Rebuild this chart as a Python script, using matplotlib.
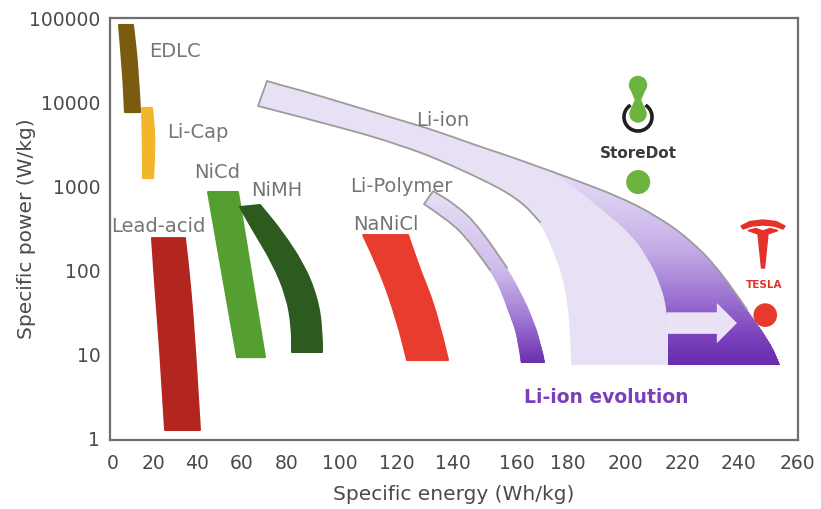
import numpy as np
import matplotlib
matplotlib.use("Agg")
import matplotlib.pyplot as plt
import matplotlib.ticker as mticker
from matplotlib.patches import Polygon, Circle, Arc, PathPatch
from matplotlib.path import Path
from matplotlib.colors import LinearSegmentedColormap

# ---------------------------------------------------------------------------
# Data: each technology is a band bounded by two edges, listed top -> bottom
# as (specific energy [Wh/kg], specific power [W/kg]).
# ---------------------------------------------------------------------------
edlc_left = [(3.0, 82600), (5.0, 24000), (6.0, 7600)]
edlc_right = [(10.0, 82600), (12.5, 24000), (13.5, 7600)]

licap_left = [(14.5, 8490), (15.0, 3250), (15.0, 1245)]
licap_right = [(19.5, 8490), (21.0, 3250), (20.0, 1245)]

lead_left = [(19.5, 240), (20.9, 70), (23.2, 12), (25.5, 1.25)]
lead_right = [(34.5, 240), (36.8, 70), (39.1, 12), (41.3, 1.25)]

nicd_left = [(44.9, 849), (51.6, 80), (57.8, 9.2)]
nicd_right = [(58.2, 849), (64.4, 80), (70.2, 9.2)]

nimh_inner = [(59.1, 562), (64.9, 299), (73.8, 121), (80.0, 47.7),
              (81.9, 21), (81.9, 10.6)]
nimh_outer = [(68.0, 594), (78.2, 276), (86.0, 121), (91.3, 47.7),
              (93.2, 19.3), (93.2, 10.6)]

nanicl_left = [(108.1, 261), (114.0, 100), (120.0, 25.4), (123.6, 8.5)]
nanicl_right = [(123.9, 261), (128.2, 100), (134.3, 30.8), (138.2, 8.5)]

lipoly_inner = [(129.6, 611), (137.1, 416), (143.1, 276), (151.6, 100),
                (155.6, 50), (158.4, 25.4), (160.4, 14.7), (161.6, 7.8)]
lipoly_outer = [(132.9, 872), (140.6, 611), (148.4, 325), (156.9, 106),
                (162.0, 50), (166.3, 25.4), (169.0, 13.9), (171.0, 7.8)]

liion_inner = [(67.1, 8960), (100, 5040), (121.1, 3080), (135.4, 2040),
               (148.4, 1245), (161.2, 681), (169.0, 373), (174.1, 173),
               (177.6, 87), (179.6, 44), (180.7, 19.3), (181.1, 7.4)]
liion_outer = [(71.1, 17800), (84.9, 13900), (100, 10000), (117.5, 6630),
               (135.4, 4390), (151.6, 2680), (161.2, 2040), (180.7, 1245),
               (198.2, 740), (210.5, 452), (221.8, 247), (233.6, 100),
               (243.1, 33.4), (249.8, 15.9), (254.2, 7.4)]

# boundary between today's Li-ion and the "evolution" zone
evolution_edge = [(174.9, 1390), (182.5, 946), (192.3, 518), (201.8, 276),
                  (207.7, 143), (212.3, 70), (214.7, 33.4), (215.1, 15.9),
                  (215.1, 7.4)]
evolution_arrow = [(214.7, 23.4), (239.6, 23.4)]

storedot_point = (204.6, 1116)
tesla_point = (249.2, 29.1)

labels = [
    ("EDLC", 30.0, 39400),
    ("Li-Cap", 40.2, 4390),
    ("NiCd", 48.9, 1430),
    ("NiMH", 75.6, 896),
    ("Lead-acid", 22.3, 334),
    ("Li-ion", 136.4, 6110),
    ("Li-Polymer", 121.4, 1000),
    ("NaNiCl", 116.1, 353),
]

x_ticks = list(range(0, 261, 20))
y_ticks = [1, 10, 100, 1000, 10000, 100000]

# the printed energy axis is not evenly spaced; map ticks to where they sit
x_knots = [-10] + x_ticks + [270]
x_spots = [93, 113, 153, 197, 242, 287, 340, 397, 453, 517, 568, 625,
           682, 738, 797, 826.5]

# ---------------------------------------------------------------------------
LABEL_GREY = "#757575"
AXIS_GREY = "#4a4a4a"
LIGHT_LILAC = "#E8E0F4"
OUTLINE = "#9c9c9c"


def _mid(a, b):
    # midpoint on a linear-x / log-y chart
    return ((a[0] + b[0]) / 2.0, np.sqrt(a[1] * b[1]))


def _smooth(pts, first_code):
    verts, codes = [pts[0]], [first_code]
    for i in range(1, len(pts) - 1):
        verts += [pts[i], _mid(pts[i], pts[i + 1])]
        codes += [Path.CURVE3, Path.CURVE3]
    verts.append(pts[-1])
    codes.append(Path.LINETO)
    return verts, codes


def smooth_path(*segments, closed=True):
    verts, codes = [], []
    for k, seg in enumerate(segments):
        v, c = _smooth(seg, Path.MOVETO if k == 0 else Path.LINETO)
        verts += v
        codes += c
    if closed:
        verts.append(verts[0])
        codes.append(Path.CLOSEPOLY)
    return Path(verts, codes)


def gradient_fill(ax, path, stops, zorder):
    patch = PathPatch(path, facecolor="none", edgecolor="none")
    ax.add_patch(patch)
    xs = path.vertices[:, 0]
    ps = path.vertices[:, 1]
    lo, hi = np.log10(ps.min()), np.log10(ps.max())
    X = np.array([xs.min() - 1, xs.max() + 1])
    Y = np.logspace(lo - 0.02, hi + 0.02, 80)
    XX, YY = np.meshgrid(X, Y)
    C = (np.log10(YY) - lo) / (hi - lo)
    cmap = LinearSegmentedColormap.from_list("g", stops)
    mesh = ax.pcolormesh(XX, YY, C, cmap=cmap, vmin=0, vmax=1,
                         shading="gouraud", zorder=zorder)
    mesh.set_clip_path(patch)


fig = plt.figure(figsize=(8.21, 5.09), dpi=100)
ax = fig.add_axes([110 / 821, 1 - 440 / 509, 688 / 821, 422 / 509])

ax.set_xscale("function", functions=(lambda v: np.interp(v, x_knots, x_spots),
                                     lambda p: np.interp(p, x_spots, x_knots)))
ax.set_yscale("log")
ax.set_xlim(-1.5, 260.3)
ax.set_ylim(0.95, 1.0e5)

# ── solid bands ──────────────────────────────────────────────────────────
solid = [
    (edlc_left, edlc_right, "#7A5B10"),
    (licap_left, licap_right, "#F3B52A"),
    (lead_left, lead_right, "#B3251F"),
    (nicd_left, nicd_right, "#559E31"),
    (nimh_inner, nimh_outer, "#2C5A1F"),
    (nanicl_left, nanicl_right, "#E83C2E"),
]
for a, b, col in solid:
    ax.add_patch(PathPatch(smooth_path(a, b[::-1]), facecolor=col,
                           edgecolor=col, lw=1.5, joinstyle="round", zorder=3))

# ── Li-ion family ────────────────────────────────────────────────────────
ax.add_patch(PathPatch(smooth_path(liion_outer, liion_inner[::-1]),
                       facecolor=LIGHT_LILAC, edgecolor="none", zorder=2))

evo_outer = [p for p in liion_outer if p[0] > evolution_edge[0][0]]
gradient_fill(ax, smooth_path([evolution_edge[0]] + evo_outer,
                              evolution_edge[::-1]),
              [(0.0, "#682CAC"), (0.145, "#7A40BC"), (0.34, "#9A6FD0"),
               (0.6, "#C3ABE6"), (0.86, "#DACDF0"), (1.0, "#E3D9F4")],
              zorder=3)

gradient_fill(ax, smooth_path(lipoly_outer, lipoly_inner[::-1]),
              [(0.0, "#6A2EAE"), (0.257, "#A077D2"), (0.54, "#CDBBEA"),
               (1.0, "#E8DFF5")], zorder=3)

# outlines on the upper parts of the Li-ion and Li-Polymer bands
for outer, inner, n_out, n_in in [(liion_outer, liion_inner, 13, 7),
                                  (lipoly_outer, lipoly_inner, 4, 4)]:
    line = smooth_path(outer[:n_out][::-1], inner[:n_in], closed=False)
    ax.add_patch(PathPatch(line, facecolor="none", edgecolor=OUTLINE,
                           lw=1.3, capstyle="round", joinstyle="round",
                           zorder=4))

ax.annotate("", xy=evolution_arrow[1], xytext=evolution_arrow[0],
            arrowprops=dict(arrowstyle="simple,head_width=2.9,head_length=1.45,"
                                       "tail_width=1.55",
                            mutation_scale=10, color="#EAE3F6", lw=0,
                            shrinkA=0, shrinkB=0), zorder=5)

# ── labels ───────────────────────────────────────────────────────────────
for text, e, p in labels:
    ax.text(e, p, text, ha="center", va="center", fontsize=14,
            color=LABEL_GREY, zorder=6)
ax.text(193.3, 3.08, "Li-ion evolution", ha="center", va="center",
        fontsize=13.5, fontweight="bold", color="#7B3FB9", zorder=6)

# ── newcomers ────────────────────────────────────────────────────────────
ax.scatter([storedot_point[0]], [storedot_point[1]], s=300, color="#6CB33F",
           edgecolor="none", zorder=6)
ax.scatter([tesla_point[0]], [tesla_point[1]], s=290, color="#E8392D",
           edgecolor="none", zorder=6)

# ── axes styling ─────────────────────────────────────────────────────────
ax.xaxis.set_major_locator(mticker.FixedLocator(x_ticks))
ax.xaxis.set_minor_locator(mticker.NullLocator())
ax.yaxis.set_major_locator(mticker.FixedLocator(y_ticks))
ax.yaxis.set_minor_locator(mticker.NullLocator())
ax.xaxis.set_major_formatter(mticker.FuncFormatter(lambda v, _: f"{v:.0f}"))
ax.yaxis.set_major_formatter(mticker.FuncFormatter(lambda v, _: f"{v:.0f}"))
ax.tick_params(length=0, labelsize=13.5, colors=AXIS_GREY)
ax.tick_params(axis="x", pad=10)
ax.tick_params(axis="y", pad=7)
for sp in ax.spines.values():
    sp.set_color("#6f6f6f")
    sp.set_linewidth(1.6)
ax.set_xlabel("Specific energy (Wh/kg)", fontsize=14.5, color=AXIS_GREY,
              labelpad=9)
ax.set_ylabel("Specific power (W/kg)", fontsize=14.5, color=AXIS_GREY)
ax.yaxis.set_label_coords(-0.108, 0.5)

# ── logos (decoration, drawn in pixel space) ────────────────────────────
ov = fig.add_axes([0, 0, 1, 1], zorder=5)
ov.set_xlim(0, 821)
ov.set_ylim(509, 0)
ov.axis("off")
ov.patch.set_alpha(0)

green = "#6CB33F"
ov.add_patch(Circle((638, 85), 8.5, color=green))
ov.add_patch(Polygon([(631, 89), (645, 89), (640.5, 100), (645, 110),
                      (631, 110), (635.5, 100)], closed=True, color=green))
ov.add_patch(Circle((638, 114), 8, color=green))
ov.add_patch(Arc((638, 117), 28, 28, theta1=-58, theta2=238,
                 lw=2.6, color="#1f1f1f"))
ov.text(638, 153, "StoreDot", ha="center", va="center", fontsize=11,
        fontweight="bold", color="#3a3a3a")

red = "#E3322A"
ov.add_patch(Polygon([(741, 226), (750, 221.5), (763, 220), (776, 221.5),
                      (785, 226), (783, 229), (774, 226), (763, 225),
                      (752, 226), (743, 229)], closed=True, color=red))
ov.add_patch(Polygon([(748, 230.5), (756, 228.5), (763, 231), (770, 228.5),
                      (778, 230.5), (768, 234), (764.5, 268), (761.5, 268),
                      (758, 234)], closed=True, color=red))
ov.text(764, 285, "TESLA", ha="center", va="center", fontsize=7.5,
        fontweight="bold", color=red)

fig.savefig("out.png", dpi=100)
